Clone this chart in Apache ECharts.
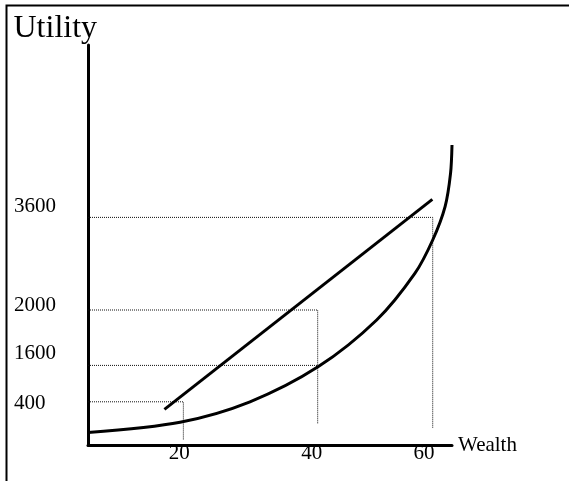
<!DOCTYPE html>
<html>
<head>
<meta charset="utf-8">
<script src="https://cdn.jsdelivr.net/npm/echarts@6/dist/echarts.min.js"></script>
<style>
    html, body { margin: 0; padding: 0; background: #fff; }
    #chart { width: 578px; height: 481px; }
</style>
</head>
<body>
<div id="chart"></div>
<script>
// sketch scale: both axes run 0..100 (the figure is not drawn to scale)
const utilityTicks = ['400', '1600', '2000', '3600']
const utilityLevels = [10.8, 19.9, 33.75, 56.9]
const utilityLabelAt = [10.5, 22.9, 34.9, 59.7]

const wealthTicks = ['20', '40', '60']
const wealthLevels = [26.2, 63.1, 94.7]
const wealthLabelAt = [25.1, 61.5, 92.3]

// which wealth tick each utility guide runs to, and where its drop line ends
const guideWealth = [0, 1, 1, 2]
const guideDropTo = [1.25, null, 5.25, 4.25]

// convex utility curve
const curveX = [0, 25.3, 44.5, 63.3, 79.3, 89.8, 94.7, 98.1, 99.6, 100]
const curveY = [3.1, 5.7, 10.8, 19.6, 31.25, 42.9, 51.25, 59.6, 67.9, 75]

// straight chord
const chordX = [21.0, 94.6]
const chordY = [8.9, 61.4]

const serif = "'Liberation Serif', 'Times New Roman', serif"

const chart = echarts.init(document.getElementById('chart'))

// dotted guide lines
const guides = utilityLevels.map((u, i) => {
    const wx = wealthLevels[guideWealth[i]]
    const pts = [[0, u], [wx, u]]
    if (guideDropTo[i] !== null) pts.push([wx, guideDropTo[i]])
    return {
        type: 'line',
        data: pts,
        symbol: 'none',
        silent: true,
        lineStyle: { color: '#111', width: 1, type: [1, 1] }
    }
})

const option = {
    animation: false,
    title: {
        text: 'Utility',
        left: 13.5,
        top: 13,
        padding: 0,
        textStyle: { fontFamily: serif, fontSize: 32, fontWeight: 'normal', color: '#000' }
    },
    graphic: [{
        type: 'polyline',
        shape: { points: [[569, 5.5], [6.5, 5.5], [6.5, 481]] },
        style: { stroke: '#000', lineWidth: 2, fill: null }
    }],
    grid: { left: 88, top: 45, right: 126, bottom: 36 },
    xAxis: {
        type: 'value',
        min: 0,
        max: 100,
        name: 'Wealth',
        nameLocation: 'end',
        nameGap: 6,
        nameTextStyle: { fontFamily: serif, fontSize: 21, color: '#000', padding: [14, 0, 0, 0] },
        axisLine: { lineStyle: { color: '#000', width: 3 } },
        axisTick: { show: false },
        splitLine: { show: false },
        axisLabel: {
            customValues: wealthLabelAt,
            formatter: v => wealthTicks[wealthLabelAt.indexOf(v)],
            verticalAlign: 'middle',
            margin: 8,
            fontFamily: serif,
            fontSize: 21,
            color: '#000'
        }
    },
    yAxis: {
        type: 'value',
        min: 0,
        max: 100,
        axisLine: { show: true, lineStyle: { color: '#000', width: 3 } },
        axisTick: { show: false },
        splitLine: { show: false },
        axisLabel: {
            customValues: utilityLabelAt,
            formatter: v => utilityTicks[utilityLabelAt.indexOf(v)],
            align: 'left',
            verticalAlign: 'middle',
            margin: 74,
            fontFamily: serif,
            fontSize: 21,
            color: '#000'
        }
    },
    series: [
        ...guides,
        {
            type: 'line',
            data: curveX.map((x, i) => [x, curveY[i]]),
            smooth: 0.3,
            symbol: 'none',
            lineStyle: { color: '#000', width: 3 }
        },
        {
            type: 'line',
            data: chordX.map((x, i) => [x, chordY[i]]),
            symbol: 'none',
            lineStyle: { color: '#000', width: 3 }
        }
    ]
}

chart.setOption(option)
</script>
</body>
</html>
